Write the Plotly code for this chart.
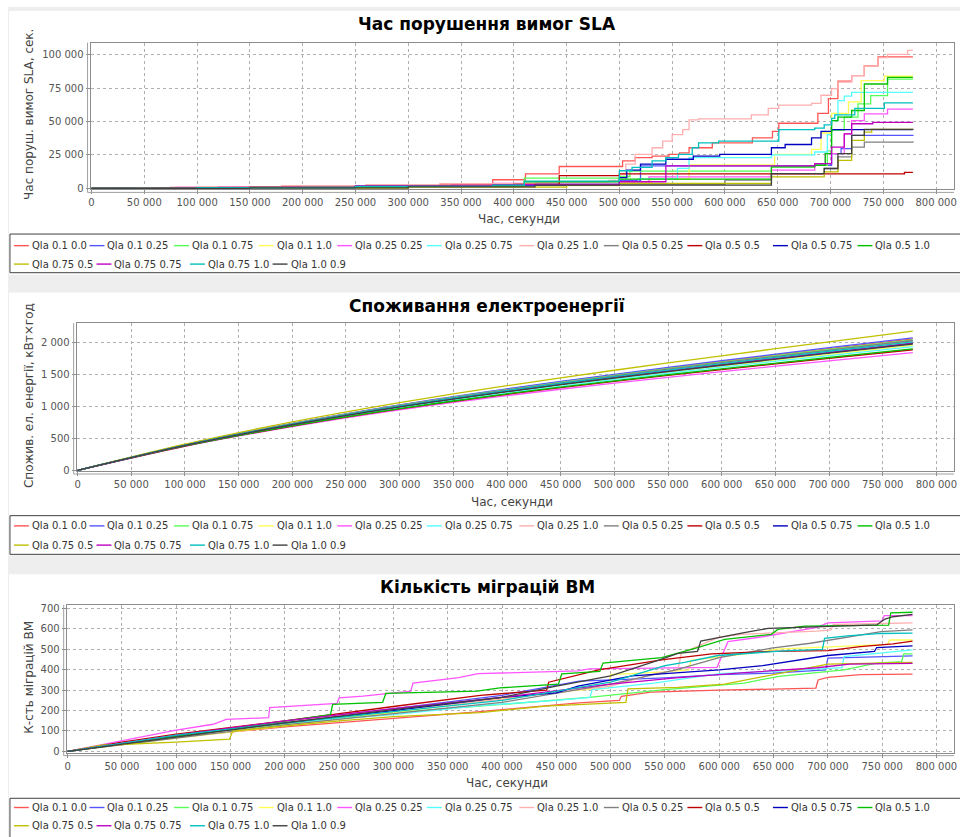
import plotly.graph_objects as go

W, H = 960, 837

# ---------------------------------------------------------------- series
names = [
    "Qla 0.1 0.0", "Qla 0.1 0.25", "Qla 0.1 0.75", "Qla 0.1 1.0",
    "Qla 0.25 0.25", "Qla 0.25 0.75", "Qla 0.25 1.0", "Qla 0.5 0.25",
    "Qla 0.5 0.5", "Qla 0.5 0.75", "Qla 0.5 1.0", "Qla 0.75 0.5",
    "Qla 0.75 0.75", "Qla 0.75 1.0", "Qla 1.0 0.9",
]
colors = [
    "#FF5555", "#5555FF", "#55FF55", "#FFFF55", "#FF55FF", "#55FFFF",
    "#FFAFAF", "#808080", "#C00000", "#0000C0", "#00C000", "#C0C000",
    "#C000C0", "#00C0C0", "#404040",
]

# ---------------------------------------------------------------- SLA violation time, s (step series)
sla_01_00_t = [0, 20000, 75000, 135000, 200000, 260000, 330000, 380000, 411000, 443000, 503000, 515000, 531000, 547000, 557000, 566000, 588000, 626000, 645000, 651000, 688000, 698000, 707000, 720000, 732000, 745000, 778000]
sla_01_00_v = [0, 400, 800, 1200, 1800, 2400, 3200, 6500, 10800, 16400, 20600, 23000, 24200, 25500, 26500, 30400, 34000, 37700, 42600, 48700, 56100, 67100, 80100, 84300, 91600, 98200, 98200]
sla_01_025_t = [0, 100000, 250000, 380000, 500000, 520000, 644000, 685000, 701000, 710000, 720000, 778000]
sla_01_025_v = [0, 600, 1500, 2500, 6000, 16800, 16800, 17300, 26000, 29700, 39600, 40100]
sla_01_075_t = [0, 100000, 250000, 380000, 410000, 500000, 510000, 644000, 685000, 697000, 701000, 713000, 726000, 738000, 754000, 778000]
sla_01_075_v = [0, 500, 1500, 2500, 7700, 8900, 13000, 16100, 17300, 28000, 43300, 53200, 63100, 69300, 81700, 81700]
sla_01_10_t = [0, 150000, 260000, 380000, 500000, 530000, 566000, 647000, 682000, 691000, 701000, 717000, 729000, 751000, 778000]
sla_01_10_v = [0, 600, 1400, 2200, 4500, 7000, 17600, 25500, 29100, 41400, 56100, 64700, 80600, 83800, 83800]
sla_025_025_t = [0, 80000, 180000, 290000, 380000, 528000, 644000, 685000, 695000, 713000, 720000, 732000, 754000, 778000]
sla_025_025_v = [0, 800, 1500, 2500, 3800, 8700, 13600, 18600, 26000, 40800, 50700, 55700, 59200, 59200]
sla_025_075_t = [0, 80000, 200000, 300000, 420000, 518000, 555000, 566000, 644000, 685000, 697000, 701000, 707000, 713000, 720000, 778000]
sla_025_075_v = [0, 400, 1200, 2000, 3000, 7100, 15000, 23000, 25000, 27200, 40200, 50700, 65600, 69000, 71800, 71800]
sla_025_10_t = [0, 40000, 100000, 180000, 260000, 340000, 420000, 490000, 500000, 506000, 515000, 531000, 541000, 550000, 560000, 566000, 575000, 625000, 641000, 651000, 682000, 691000, 701000, 707000, 720000, 732000, 745000, 754000, 773000, 778000]
sla_025_10_v = [0, 600, 1200, 2000, 2800, 3600, 4500, 6000, 10800, 18100, 25500, 30400, 35300, 40200, 43900, 51200, 52000, 54900, 59800, 62200, 63500, 69600, 74500, 79400, 84300, 91600, 97700, 100200, 103100, 103100]
sla_05_025_t = [0, 150000, 300000, 400000, 600000, 644000, 694000, 707000, 720000, 732000, 778000]
sla_05_025_v = [0, 600, 1500, 3000, 6200, 11100, 14900, 23500, 30900, 34600, 35300]
sla_05_05_t = [0, 60000, 150000, 250000, 330000, 400000, 443000, 500000, 770000, 778000]
sla_05_05_v = [0, 300, 800, 1500, 2200, 3000, 9600, 10800, 12000, 12000]
sla_05_075_t = [0, 100000, 250000, 380000, 500000, 507000, 520000, 544000, 570000, 595000, 644000, 657000, 682000, 691000, 701000, 778000]
sla_05_075_v = [0, 500, 1500, 2500, 8000, 13700, 18100, 21800, 24200, 25500, 30400, 32800, 37700, 42600, 43900, 43900]
sla_05_10_t = [0, 150000, 300000, 410000, 500000, 644000, 685000, 695000, 701000, 707000, 720000, 732000, 754000, 778000]
sla_05_10_v = [0, 800, 1800, 5000, 7000, 16100, 17300, 26000, 50700, 53200, 58200, 78000, 82900, 82900]
sla_075_05_t = [0, 150000, 300000, 450000, 500000, 644000, 694000, 707000, 720000, 732000, 739000, 778000]
sla_075_05_v = [0, 300, 1000, 2500, 3700, 8700, 12400, 21000, 35900, 42100, 44100, 44100]
sla_075_075_t = [0, 120000, 250000, 380000, 500000, 544000, 685000, 701000, 713000, 720000, 740000, 778000]
sla_075_075_v = [0, 700, 1800, 2800, 5000, 16800, 18600, 30900, 40800, 48300, 49300, 49300]
sla_075_10_t = [0, 100000, 250000, 380000, 410000, 500000, 512000, 531000, 544000, 556000, 569000, 575000, 594000, 651000, 685000, 694000, 701000, 704000, 723000, 751000, 778000]
sla_075_10_v = [0, 500, 1500, 2500, 5500, 13200, 15700, 20600, 23000, 25500, 30400, 34000, 35300, 43900, 45100, 47500, 52400, 54900, 59800, 63900, 63900]
sla_10_09_t = [0, 150000, 300000, 420000, 644000, 694000, 707000, 720000, 732000, 778000]
sla_10_09_v = [0, 400, 1200, 2500, 11100, 14900, 26000, 39600, 44100, 44600]

# ---------------------------------------------------------------- energy consumption, kWh
energy_t = [0, 100000, 200000, 300000, 400000, 500000, 600000, 700000, 778000]
energy_01_00 = [0, 397, 730, 1019, 1267, 1492, 1702, 1902, 2055]
energy_01_025 = [0, 399, 734, 1025, 1275, 1502, 1714, 1917, 2072]
energy_01_075 = [0, 396, 727, 1014, 1260, 1483, 1691, 1889, 2040]
energy_01_10 = [0, 387, 708, 985, 1221, 1432, 1628, 1813, 1955]
energy_025_025 = [0, 375, 683, 946, 1168, 1363, 1543, 1711, 1840]
energy_025_075 = [0, 385, 704, 978, 1212, 1420, 1613, 1795, 1935]
energy_025_10 = [0, 394, 723, 1007, 1251, 1471, 1676, 1871, 2020]
energy_05_025 = [0, 395, 725, 1010, 1256, 1477, 1683, 1880, 2030]
energy_05_05 = [0, 380, 693, 961, 1189, 1390, 1576, 1751, 1885]
energy_05_075 = [0, 390, 715, 995, 1235, 1450, 1650, 1840, 1985]
energy_05_10 = [0, 381, 696, 966, 1196, 1399, 1587, 1764, 1900]
energy_075_05 = [0, 409, 757, 1060, 1323, 1565, 1791, 2010, 2176]
energy_075_075 = [0, 391, 716, 997, 1237, 1453, 1654, 1844, 1990]
energy_075_10 = [0, 393, 721, 1004, 1247, 1465, 1669, 1862, 2010]
energy_10_09 = [0, 389, 713, 992, 1230, 1444, 1643, 1831, 1975]

# ---------------------------------------------------------------- VM migrations count
mig_01_00_t = [0, 100000, 200000, 300000, 380000, 471000, 508000, 510000, 537000, 600000, 689000, 691000, 700000, 730000, 778000]
mig_01_00_v = [0, 70, 120, 160, 195, 238, 250, 270, 290, 300, 310, 350, 363, 376, 379]
mig_01_025_t = [0, 100000, 200000, 300000, 400000, 471000, 550000, 600000, 650000, 698000, 700000, 778000]
mig_01_025_v = [0, 75, 145, 210, 275, 344, 360, 376, 384, 400, 457, 468]
mig_01_075_t = [0, 100000, 200000, 300000, 400000, 480000, 550000, 623000, 655000, 715000, 745000, 768000, 770000, 778000]
mig_01_075_v = [0, 75, 135, 190, 230, 265, 303, 335, 368, 400, 433, 440, 478, 478]
mig_01_10_t = [0, 100000, 200000, 300000, 400000, 470000, 498000, 500000, 550000, 572000, 574000, 635000, 653000, 733000, 755000, 757000, 778000]
mig_01_10_v = [0, 65, 125, 190, 260, 300, 310, 376, 390, 400, 446, 485, 501, 522, 525, 546, 546]
mig_025_025_t = [0, 100000, 134000, 146000, 185000, 186000, 248000, 250000, 272000, 316000, 318000, 360000, 378000, 470000, 480000, 598000, 608000, 640000, 690000, 700000, 750000, 752000, 778000]
mig_025_025_v = [0, 104, 133, 157, 165, 214, 235, 262, 271, 295, 335, 362, 381, 395, 404, 412, 538, 562, 608, 630, 640, 666, 666]
mig_025_075_t = [0, 100000, 200000, 300000, 380000, 450000, 481000, 483000, 540000, 600000, 660000, 713000, 715000, 770000, 778000]
mig_025_075_v = [0, 75, 140, 180, 225, 250, 265, 303, 335, 381, 395, 410, 465, 494, 498]
mig_025_10_t = [0, 100000, 200000, 300000, 400000, 450000, 500000, 540000, 562000, 565000, 600000, 620000, 690000, 703000, 705000, 778000]
mig_025_10_v = [0, 75, 145, 205, 255, 290, 320, 380, 400, 481, 560, 574, 590, 595, 622, 630]
mig_05_025_t = [0, 100000, 200000, 300000, 400000, 500000, 560000, 600000, 648000, 684000, 718000, 749000, 778000]
mig_05_025_v = [0, 65, 130, 185, 240, 330, 400, 460, 506, 530, 561, 587, 596]
mig_05_05_t = [0, 50000, 100000, 200000, 300000, 380000, 441000, 443000, 489000, 547000, 593000, 648000, 700000, 730000, 760000, 778000]
mig_05_05_v = [0, 45, 85, 150, 220, 275, 300, 339, 400, 449, 478, 490, 494, 514, 527, 541]
mig_05_075_t = [0, 100000, 200000, 300000, 400000, 450000, 470000, 520000, 600000, 640000, 700000, 743000, 745000, 778000]
mig_05_075_v = [0, 75, 140, 200, 265, 287, 320, 370, 400, 420, 470, 490, 509, 517]
mig_05_10_t = [0, 100000, 200000, 242000, 244000, 290000, 293000, 377000, 398000, 452000, 455000, 490000, 493000, 530000, 547000, 580000, 605000, 648000, 654000, 679000, 756000, 758000, 778000]
mig_05_10_v = [0, 75, 150, 180, 230, 240, 284, 295, 311, 330, 380, 392, 433, 449, 460, 509, 549, 574, 598, 614, 619, 679, 682]
mig_075_05_t = [0, 31000, 100000, 149000, 152000, 250000, 300000, 380000, 440000, 471000, 514000, 516000, 562000, 605000, 640000, 700000, 778000]
mig_075_05_v = [0, 30, 45, 60, 100, 150, 170, 190, 222, 230, 240, 306, 314, 330, 366, 428, 436]
mig_075_075_t = [0, 100000, 200000, 300000, 400000, 500000, 560000, 620000, 690000, 720000, 778000]
mig_075_075_v = [0, 80, 150, 210, 265, 330, 360, 385, 410, 428, 431]
mig_075_10_t = [0, 100000, 200000, 300000, 400000, 500000, 550000, 568000, 599000, 660000, 695000, 697000, 718000, 749000, 778000]
mig_075_10_v = [0, 80, 140, 195, 250, 340, 420, 436, 470, 493, 500, 554, 566, 578, 580]
mig_10_09_t = [0, 100000, 200000, 300000, 400000, 450000, 500000, 545000, 562000, 580000, 583000, 623000, 645000, 745000, 752000, 760000, 778000]
mig_10_09_v = [0, 70, 140, 205, 265, 320, 370, 449, 481, 490, 541, 582, 603, 620, 647, 660, 672]

sla_series = [
    (sla_01_00_t, sla_01_00_v), (sla_01_025_t, sla_01_025_v), (sla_01_075_t, sla_01_075_v),
    (sla_01_10_t, sla_01_10_v), (sla_025_025_t, sla_025_025_v), (sla_025_075_t, sla_025_075_v),
    (sla_025_10_t, sla_025_10_v), (sla_05_025_t, sla_05_025_v), (sla_05_05_t, sla_05_05_v),
    (sla_05_075_t, sla_05_075_v), (sla_05_10_t, sla_05_10_v), (sla_075_05_t, sla_075_05_v),
    (sla_075_075_t, sla_075_075_v), (sla_075_10_t, sla_075_10_v), (sla_10_09_t, sla_10_09_v),
]
energy_series = [
    energy_01_00, energy_01_025, energy_01_075, energy_01_10, energy_025_025,
    energy_025_075, energy_025_10, energy_05_025, energy_05_05, energy_05_075,
    energy_05_10, energy_075_05, energy_075_075, energy_075_10, energy_10_09,
]
mig_series = [
    (mig_01_00_t, mig_01_00_v), (mig_01_025_t, mig_01_025_v), (mig_01_075_t, mig_01_075_v),
    (mig_01_10_t, mig_01_10_v), (mig_025_025_t, mig_025_025_v), (mig_025_075_t, mig_025_075_v),
    (mig_025_10_t, mig_025_10_v), (mig_05_025_t, mig_05_025_v), (mig_05_05_t, mig_05_05_v),
    (mig_05_075_t, mig_05_075_v), (mig_05_10_t, mig_05_10_v), (mig_075_05_t, mig_075_05_v),
    (mig_075_075_t, mig_075_075_v), (mig_075_10_t, mig_075_10_v), (mig_10_09_t, mig_10_09_v),
]


# ---------------------------------------------------------------- helpers (pixel -> paper)
def fx(x):
    return x / W


def fy(y):
    return 1 - y / H


FONT = "DejaVu Sans"
TICK_COLOR = "#555555"
LABEL_COLOR = "#444444"
GRID_COLOR = "#b0b0b0"
AXIS_COLOR = "#8c8c8c"

# panel geometry: plot box (left, top, right, bottom) in px and axis ranges
panels = [
    dict(box=(89, 41, 957, 189), xr=(-942, 816960), yr=(-741, 108889), dtick=25000,
         title="Час порушення вимог SLA", title_y=22,
         ytitle="Час поруш. вимог SLA, сек.", xtitle_y=219,
         legend_top=234, legend_bottom=273, rows=(245.7, 264.3),
         panel=(9, 275)),
    dict(box=(75, 324, 957, 473), xr=(-927, 816400), yr=(-11, 2299), dtick=500,
         title="Споживання електроенергії", title_y=307,
         ytitle="Спожив. ел. енергії, кВт×год", xtitle_y=504,
         legend_top=518, legend_bottom=557, rows=(528.3, 547.7),
         panel=(293, 558)),
    dict(box=(65, 608, 957, 757), xr=(-916, 816200), yr=(-6.3, 718), dtick=100,
         title="Кількість міграцій ВМ", title_y=590,
         ytitle="К-сть міграцій ВМ", xtitle_y=788,
         legend_top=803, legend_bottom=850, rows=(812.3, 830.7),
         panel=(577, 850)),
]

legend_row1_x = [12, 88, 173, 258, 337, 427, 520, 605, 689, 775, 860]
legend_row2_x = [12, 95, 189, 272]

fig = go.Figure()

# traces
for i in range(15):
    t, v = sla_series[i]
    fig.add_trace(go.Scatter(x=t, y=v, mode="lines", line=dict(color=colors[i], width=1.3, shape="hv"),
                             name=names[i], showlegend=False, xaxis="x", yaxis="y", hoverinfo="skip"))
for i in range(15):
    fig.add_trace(go.Scatter(x=energy_t, y=energy_series[i], mode="lines",
                             line=dict(color=colors[i], width=1.3, shape="spline", smoothing=0.8),
                             name=names[i], showlegend=False, xaxis="x2", yaxis="y2", hoverinfo="skip"))
for i in range(15):
    t, v = mig_series[i]
    fig.add_trace(go.Scatter(x=t, y=v, mode="lines", line=dict(color=colors[i], width=1.3, shape="linear"),
                             name=names[i], showlegend=False, xaxis="x3", yaxis="y3", hoverinfo="skip"))

shapes = []
annotations = []

# grey page background between the chart panels
shapes.append(dict(type="rect", xref="paper", yref="paper", x0=fx(6), x1=fx(965), y0=fy(845), y1=fy(5),
                   fillcolor="#eeeeee", line=dict(width=0), layer="below"))

layout_axes = {}
for k, p in enumerate(panels):
    sfx = "" if k == 0 else str(k + 1)
    l, t, r, b = p["box"]
    # white panel
    shapes.append(dict(type="rect", xref="paper", yref="paper", x0=fx(7), x1=fx(965),
                       y0=fy(p["panel"][1]), y1=fy(p["panel"][0]),
                       fillcolor="white", line=dict(width=0), layer="below"))
    layout_axes["xaxis" + sfx] = dict(
        domain=[fx(l), fx(r)], range=list(p["xr"]), anchor="y" + sfx,
        tick0=0, dtick=50000, tickformat=",d",
        showgrid=True, gridcolor=GRID_COLOR, griddash="dot", gridwidth=1, zeroline=False,
        showline=True, linecolor=AXIS_COLOR, linewidth=1, mirror=True,
        ticks="outside", ticklen=4, tickcolor=AXIS_COLOR,
        tickfont=dict(family=FONT, size=10, color=TICK_COLOR),
    )
    layout_axes["yaxis" + sfx] = dict(
        domain=[fy(b), fy(t)], range=list(p["yr"]), anchor="x" + sfx,
        tick0=0, dtick=p["dtick"], tickformat=",d",
        showgrid=True, gridcolor=GRID_COLOR, griddash="dot", gridwidth=1, zeroline=False,
        showline=True, linecolor=AXIS_COLOR, linewidth=1, mirror=True,
        ticks="outside", ticklen=4, tickcolor=AXIS_COLOR,
        tickfont=dict(family=FONT, size=10, color=TICK_COLOR),
    )
    # offset axis lines
    shapes.append(dict(type="line", xref="paper", yref="paper", x0=fx(l - 3), x1=fx(l - 3),
                       y0=fy(t), y1=fy(b + 3), line=dict(color="#a0a0a0", width=1)))
    shapes.append(dict(type="line", xref="paper", yref="paper", x0=fx(l - 3), x1=fx(r),
                       y0=fy(b + 3), y1=fy(b + 3), line=dict(color="#a0a0a0", width=1)))

    # titles
    annotations.append(dict(text="<b>" + p["title"] + "</b>", xref="paper", yref="paper",
                            x=fx(488), y=fy(p["title_y"]), xanchor="center", yanchor="middle",
                            showarrow=False, font=dict(family=FONT, size=17, color="black")))
    annotations.append(dict(text="Час, секунди", xref="paper", yref="paper",
                            x=fx((l + r) / 2 - 3), y=fy(p["xtitle_y"]), xanchor="center", yanchor="middle",
                            showarrow=False, font=dict(family=FONT, size=12, color=LABEL_COLOR)))
    annotations.append(dict(text=p["ytitle"], xref="paper", yref="paper", textangle=-90,
                            x=fx(27), y=fy((t + b) / 2 - 2), xanchor="center", yanchor="middle",
                            showarrow=False, font=dict(family=FONT, size=12, color=LABEL_COLOR)))

    # legend box
    shapes.append(dict(type="rect", xref="paper", yref="paper", x0=fx(8), x1=fx(970),
                       y0=fy(p["legend_bottom"]), y1=fy(p["legend_top"]),
                       fillcolor="white", line=dict(color="#404040", width=1), layer="above"))
    slots = [(x, p["rows"][0]) for x in legend_row1_x] + [(x, p["rows"][1]) for x in legend_row2_x]
    for i, (lx, ly) in enumerate(slots):
        shapes.append(dict(type="line", xref="paper", yref="paper", x0=fx(lx), x1=fx(lx + 15),
                           y0=fy(ly), y1=fy(ly), line=dict(color=colors[i], width=1.4), layer="above"))
        annotations.append(dict(text=names[i], xref="paper", yref="paper", x=fx(lx + 16), y=fy(ly),
                                xanchor="left", yanchor="middle", showarrow=False,
                                font=dict(family=FONT, size=10, color="#333333")))

fig.update_layout(
    width=W, height=H, autosize=False,
    margin=dict(l=0, r=0, t=0, b=0),
    paper_bgcolor="white", plot_bgcolor="white",
    separators=". ",
    showlegend=False,
    shapes=shapes, annotations=annotations,
    **layout_axes,
)

fig.write_html("out.html")
